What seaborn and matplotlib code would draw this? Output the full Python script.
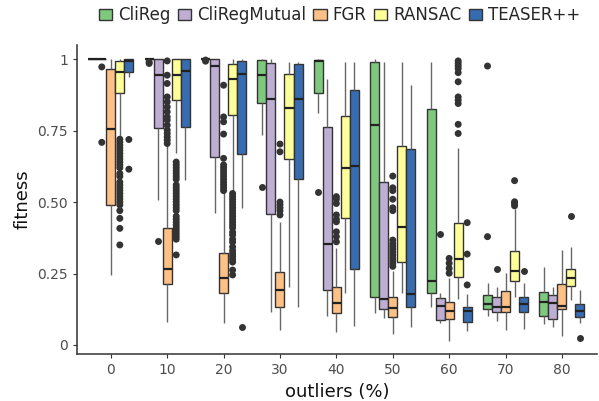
import numpy as np
import pandas as pd
import seaborn as sns
import matplotlib.pyplot as plt

methods = ["CliReg", "CliRegMutual", "FGR", "RANSAC", "TEASER++"]
outlier_levels = [0, 10, 20, 30, 40, 50, 60, 70, 80]
colors = ["#7fc97f", "#beaed4", "#fdc086", "#ffff99", "#386cb0"]

# five-number summaries per outlier level: [whisker low, q1, median, q3, whisker high]
clireg_box = [
    [1.0, 1.0, 1.0, 1.0, 1.0],
    [1.0, 1.0, 1.0, 1.0, 1.0],
    [1.0, 1.0, 1.0, 1.0, 1.0],
    [0.734, 0.848, 0.944, 0.997, 1.0],
    [0.812, 0.883, 0.993, 0.997, 1.0],
    [0.111, 0.167, 0.769, 0.99, 1.0],
    [0.134, 0.183, 0.225, 0.825, 0.99],
    [0.103, 0.125, 0.142, 0.175, 0.216],
    [0.073, 0.101, 0.152, 0.186, 0.274],
]
cliregmutual_box = [
    [1.0, 1.0, 1.0, 1.0, 1.0],
    [0.507, 0.758, 0.946, 1.0, 1.0],
    [0.463, 0.657, 0.977, 1.0, 1.0],
    [0.117, 0.458, 0.862, 0.988, 1.0],
    [0.101, 0.192, 0.352, 0.761, 0.932],
    [0.093, 0.125, 0.161, 0.571, 0.99],
    [0.078, 0.087, 0.138, 0.163, 0.181],
    [0.084, 0.114, 0.134, 0.169, 0.202],
    [0.064, 0.090, 0.148, 0.175, 0.202],
]
fgr_box = [
    [0.245, 0.49, 0.757, 0.965, 1.0],
    [0.082, 0.212, 0.265, 0.41, 0.70],
    [0.076, 0.183, 0.233, 0.323, 0.53],
    [0.052, 0.134, 0.192, 0.256, 0.43],
    [0.047, 0.111, 0.146, 0.204, 0.34],
    [0.038, 0.099, 0.130, 0.167, 0.26],
    [0.015, 0.090, 0.120, 0.149, 0.233],
    [0.052, 0.114, 0.134, 0.189, 0.251],
    [0.031, 0.125, 0.138, 0.212, 0.332],
]
ransac_box = [
    [0.73, 0.88, 0.956, 0.993, 1.0],
    [0.67, 0.857, 0.944, 1.0, 1.0],
    [0.54, 0.804, 0.93, 0.983, 1.0],
    [0.204, 0.649, 0.83, 0.948, 0.99],
    [0.181, 0.443, 0.62, 0.80, 0.99],
    [0.181, 0.291, 0.414, 0.696, 0.99],
    [0.16, 0.239, 0.301, 0.428, 0.69],
    [0.167, 0.225, 0.26, 0.329, 0.474],
    [0.157, 0.206, 0.235, 0.265, 0.344],
]
teaser_box = [
    [0.938, 0.956, 0.993, 1.0, 1.0],
    [0.577, 0.761, 0.959, 1.0, 1.0],
    [0.478, 0.667, 0.948, 0.993, 1.0],
    [0.132, 0.579, 0.862, 0.983, 0.99],
    [0.066, 0.265, 0.626, 0.892, 0.99],
    [0.062, 0.134, 0.177, 0.684, 0.911],
    [0.050, 0.082, 0.120, 0.134, 0.178],
    [0.055, 0.114, 0.142, 0.169, 0.216],
    [0.078, 0.099, 0.120, 0.143, 0.192],
]

# outlier points per outlier level
clireg_fliers = [
    [], [0.99, 0.985], [0.997, 0.993], [0.553], [0.534], [], [], [0.976, 0.379], [],
]
cliregmutual_fliers = [
    [0.973, 0.709], [0.365], [], [], [], [], [0.387], [0.266], [],
]
fgr_fliers = [
    [],
    [0.994, 0.944, 0.915, 0.868, 0.851, 0.833, 0.816, 0.798, 0.787, 0.769,
     0.752, 0.740, 0.728, 0.717, 0.705],
    [0.909, 0.798, 0.781, 0.738, 0.653, 0.63, 0.62, 0.61, 0.60, 0.59, 0.58,
     0.57, 0.56, 0.55, 0.54],
    [0.703, 0.676, 0.50, 0.49, 0.48, 0.47, 0.455],
    [0.519, 0.51, 0.495, 0.455, 0.44, 0.431, 0.396, 0.379, 0.361],
    [0.591, 0.55, 0.54, 0.51, 0.48, 0.47, 0.367, 0.355, 0.345, 0.335, 0.325,
     0.315, 0.305, 0.295, 0.285, 0.275],
    [0.303, 0.286, 0.268, 0.251],
    [],
    [],
]
ransac_fliers = [
    [0.72, 0.71, 0.70, 0.69, 0.68, 0.67, 0.66, 0.65, 0.64, 0.63, 0.62, 0.60,
     0.59, 0.57, 0.56, 0.55, 0.54, 0.53, 0.52, 0.51, 0.50, 0.49, 0.47, 0.443,
     0.408, 0.35],
    [0.64, 0.63, 0.62, 0.61, 0.60, 0.59, 0.58, 0.56, 0.55, 0.54, 0.53, 0.52,
     0.51, 0.50, 0.49, 0.48, 0.47, 0.45, 0.44, 0.43, 0.42, 0.41, 0.40, 0.39,
     0.38, 0.37, 0.315],
    [0.53, 0.52, 0.51, 0.50, 0.49, 0.48, 0.47, 0.46, 0.45, 0.44, 0.43, 0.42,
     0.41, 0.395, 0.385, 0.37, 0.36, 0.343, 0.33, 0.32, 0.31, 0.30, 0.29,
     0.262, 0.245],
    [], [], [],
    [0.994, 0.985, 0.976, 0.967, 0.953, 0.921, 0.868, 0.857, 0.845, 0.772, 0.740],
    [0.575, 0.501, 0.495, 0.487],
    [0.451],
]
teaser_fliers = [
    [0.719, 0.615], [], [0.064], [], [], [], [0.428, 0.318, 0.21], [0.26], [0.026],
]

box_sets = [clireg_box, cliregmutual_box, fgr_box, ransac_box, teaser_box]
flier_sets = [clireg_fliers, cliregmutual_fliers, fgr_fliers, ransac_fliers, teaser_fliers]

box_rows = []
for m, stats in zip(methods, box_sets):
    for lvl, vals in zip(outlier_levels, stats):
        for v in vals:
            box_rows.append({"outliers": lvl, "fitness": v, "method": m})
box_df = pd.DataFrame(box_rows)

flier_rows = []
for m, fl in zip(methods, flier_sets):
    for lvl, vals in zip(outlier_levels, fl):
        for v in vals:
            flier_rows.append({"outliers": lvl, "fitness": v, "method": m})
flier_df = pd.DataFrame(flier_rows)

sns.set_theme(style="ticks")
plt.rcParams["font.family"] = ["DejaVu Sans"]

fig = plt.figure(figsize=(5.99, 4.01), dpi=100)
ax = fig.add_axes([0.1285, 0.117, 0.868, 0.771])

edge = "#333333"
sns.boxplot(
    data=box_df, x="outliers", y="fitness", hue="method",
    order=outlier_levels, hue_order=methods, palette=colors,
    saturation=1, width=0.8, gap=0, whis=(0, 100), showfliers=False,
    showcaps=False, linecolor=edge, linewidth=1.0,
    whiskerprops={"color": "#666666", "linewidth": 1.0},
    medianprops={"color": "#222222", "linewidth": 1.6},
    ax=ax,
)
sns.stripplot(
    data=flier_df, x="outliers", y="fitness", hue="method",
    order=outlier_levels, hue_order=methods,
    palette={m: "#333333" for m in methods},
    dodge=True, jitter=False, size=5, linewidth=0, legend=False, ax=ax,
)

ax.set_xlim(-0.6, 8.62)
ax.set_ylim(-0.032, 1.05)
ax.set_yticks([0, 0.25, 0.5, 0.75, 1.0])
ax.set_yticklabels(["0", "0.25", "0.50", "0.75", "1"])
ax.set_xlabel("outliers (%)", fontsize=13, color="#111111")
ax.set_ylabel("fitness", fontsize=13, color="#111111")
ax.tick_params(axis="both", colors="#333333", labelcolor="#4d4d4d",
               labelsize=10, length=3, width=0.8)
for s in ["top", "right"]:
    ax.spines[s].set_visible(False)
for s in ["left", "bottom"]:
    ax.spines[s].set_color("#333333")
    ax.spines[s].set_linewidth(1.1)

sns.move_legend(
    ax, "lower center", bbox_to_anchor=(0.505, 1.045), ncol=5, title=None,
    frameon=False, fontsize=12, handlelength=0.8, handleheight=0.7,
    handletextpad=0.35, columnspacing=0.45, borderaxespad=0,
)

fig.savefig("out.png", dpi=100)
